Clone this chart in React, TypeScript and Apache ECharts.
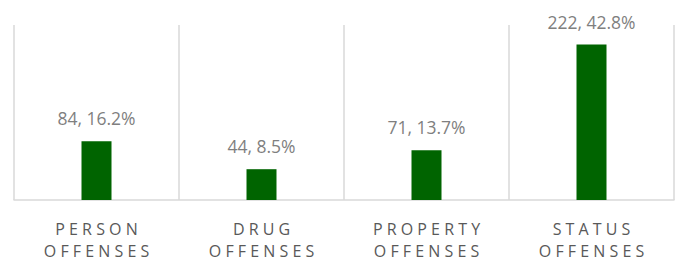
import React, { useEffect, useRef } from "react";
import * as echarts from "echarts";

const categories = ["PERSON\nOFFENSES", "DRUG\nOFFENSES", "PROPERTY\nOFFENSES", "STATUS\nOFFENSES"];
const counts = [84, 44, 71, 222];
const percents = ["16.2%", "8.5%", "13.7%", "42.8%"];

const spaced = (s: string) =>
  s
    .split("\n")
    .map((line) => line.split("").join(" "))
    .join("\n");

export default function App() {
  const ref = useRef<HTMLDivElement>(null);
  useEffect(() => {
    if (!ref.current) return;
    const chart = echarts.init(ref.current, null, { renderer: "svg" });
    chart.setOption({
      animation: false,
      grid: { left: 14, right: 8, top: 25, bottom: 64 },
      xAxis: {
        type: "category",
        data: categories.map(spaced),
        axisLine: { show: true, lineStyle: { color: "#d9d9d9", width: 1.5 } },
        axisTick: { show: false },
        splitLine: { show: true, lineStyle: { color: "#d9d9d9", width: 1.5 } },
        axisLabel: {
          interval: 0,
          margin: 18,
          color: "#595959",
          fontFamily: "Open Sans",
          fontSize: 16,
          lineHeight: 22,
        },
      },
      yAxis: {
        type: "value",
        min: 0,
        max: 250,
        show: false,
        splitLine: { show: false },
      },
      series: [
        {
          type: "bar",
          data: counts,
          barWidth: 30,
          itemStyle: { color: "#006400" },
          label: {
            show: true,
            position: "top",
            distance: 14,
            color: "#7f7f7f",
            fontFamily: "Open Sans",
            fontSize: 17.5,
            formatter: (p: any) => `${counts[p.dataIndex]}, ${percents[p.dataIndex]}`,
          },
        },
      ],
    });
    return () => chart.dispose();
  }, []);
  return <div ref={ref} style={{ width: 682, height: 264, position: "absolute", left: 0, top: 0 }} />;
}
